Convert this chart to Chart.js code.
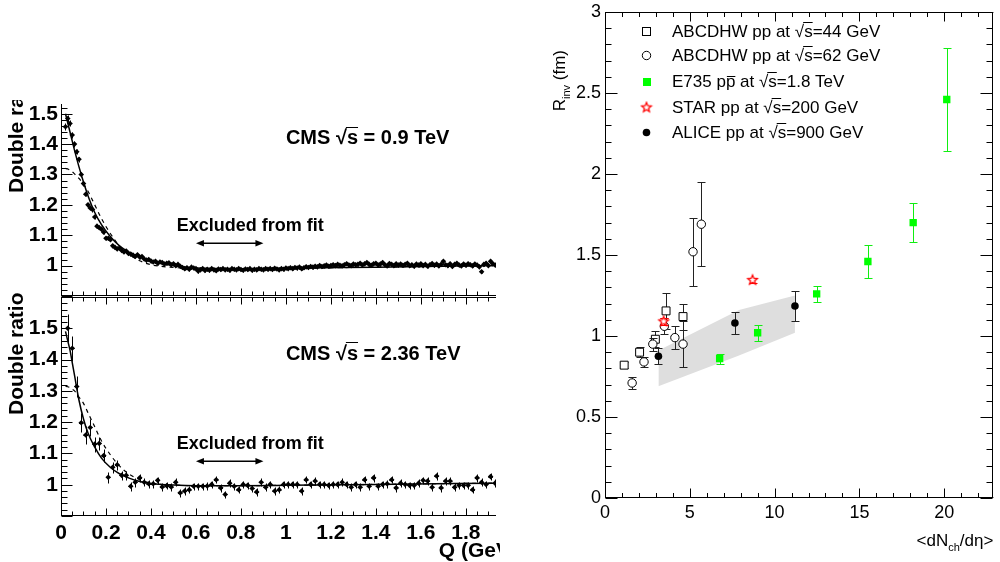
<!DOCTYPE html>
<html>
<head>
<meta charset="utf-8">
<script src="https://cdn.jsdelivr.net/npm/chart.js@4/dist/chart.umd.min.js"></script>
<style>
  body { margin: 0; background: #fff; width: 1000px; height: 562px; position: relative; overflow: hidden; }
  canvas { position: absolute; }
  #topLeft { left: 0; top: 100px; }
  #botLeft { left: 0; top: 290px; }
  #right { left: 500px; top: 0; }
</style>
</head>
<body>
<canvas id="topLeft" width="500" height="200"></canvas>
<canvas id="botLeft" width="500" height="272"></canvas>
<canvas id="right" width="500" height="562"></canvas>
<script>
// ---- left panels: CMS double ratio vs Q (GeV) ----
// 0.9 TeV histogram, bins of 0.01 GeV starting at 0.02
const topFirstBin = 0.02, topBinWidth = 0.01;
const ratioTop = [
  1.457, 1.484, 1.468, 1.430, 1.400, 1.375, 1.350, 1.300, 1.270, 1.235,
  1.200, 1.190, 1.185, 1.160, 1.130, 1.125, 1.120, 1.110, 1.090, 1.090,
  1.085, 1.065, 1.060, 1.055, 1.058, 1.050, 1.045, 1.048, 1.040, 1.038,
  1.035, 1.030, 1.036, 1.028, 1.030, 1.022, 1.018, 1.020, 1.015, 1.012,
  1.014, 1.008, 1.012, 1.010, 1.005, 1.008, 1.009, 1.003, 1.006, 1.000,
  1.004, 0.998, 0.994, 0.990, 0.993, 0.988, 0.995, 0.992, 0.990, 0.982,
  0.986, 0.990, 0.984, 0.988, 0.985, 0.990, 0.986, 0.983, 0.989, 0.987,
  0.990, 0.986, 0.988, 0.985, 0.990, 0.988, 0.986, 0.990, 0.987, 0.985,
  0.989, 0.987, 0.990, 0.985, 0.988, 0.986, 0.990, 0.988, 0.986, 0.990,
  0.988, 0.990, 0.987, 0.991, 0.989, 0.986, 0.990, 0.988, 0.992, 0.990,
  0.993, 0.990, 0.994, 0.992, 0.995, 0.990, 0.993, 0.996, 0.994, 0.997,
  0.995, 0.998, 0.996, 1.000, 0.997, 0.999, 1.002, 0.998, 1.000, 1.003,
  1.000, 1.004, 1.001, 0.999, 1.003, 1.006, 1.002, 1.000, 1.005, 1.003,
  1.004, 1.008, 1.002, 1.006, 1.010, 1.004, 1.001, 1.006, 1.008, 1.002,
  1.005, 1.010, 1.003, 0.999, 1.007, 1.004, 1.000, 1.006, 1.002, 1.005,
  1.001, 1.004, 1.008, 1.000, 1.003, 0.998, 1.005, 1.002, 1.006, 1.000,
  1.004, 0.998, 1.003, 1.007, 1.001, 1.005, 0.999, 1.004, 1.014, 1.003,
  1.000, 1.006, 0.997, 1.004, 1.008, 1.002, 0.999, 1.005, 1.001, 1.006,
  1.003, 0.999, 1.005, 1.002, 0.996, 0.980, 1.004, 1.008, 1.000, 1.014,
  1.006, 1.002
];
const errTop = [
  .012, .011, .010, .010, .009, .009, .008, .008, .008, .007,
  .007, .007, .007, .006, .006, .006, .006, .006, .006, .005,
  .005, .005, .005, .005, .005, .005, .005, .005, .005, .005,
  .005, .005, .005, .005, .005, .005, .005, .005, .005, .005,
  .005, .005, .005, .005, .005, .005, .005, .005, .005, .005,
  .005, .005, .005, .005, .005, .005, .005, .005, .005, .005,
  .005, .005, .005, .005, .005, .005, .005, .005, .005, .005,
  .005, .005, .005, .005, .005, .005, .005, .005, .005, .005,
  .005, .005, .005, .005, .005, .005, .005, .005, .005, .005,
  .005, .005, .005, .005, .005, .005, .005, .005, .005, .005,
  .005, .005, .005, .005, .005, .005, .005, .005, .005, .005,
  .005, .005, .005, .005, .005, .005, .005, .005, .005, .005,
  .005, .005, .005, .005, .005, .005, .005, .005, .005, .005,
  .005, .005, .005, .005, .005, .005, .005, .005, .005, .005,
  .005, .005, .005, .005, .005, .005, .005, .005, .005, .005,
  .005, .005, .005, .005, .005, .005, .005, .005, .005, .005,
  .005, .005, .005, .005, .005, .005, .005, .005, .005, .005,
  .005, .005, .005, .005, .005, .005, .005, .005, .005, .005,
  .005, .005, .005, .005, .005, .005, .005, .005, .005, .005,
  .005, .005
];

// 2.36 TeV histogram, bins of 0.02 GeV starting at 0.03
const botFirstBin = 0.03, botBinWidth = 0.02;
const ratioBot = [
  1.500, 1.436, 1.314, 1.198, 1.159, 1.183, 1.130, 1.132, 1.093, 1.024,
  1.056, 1.064, 1.030, 1.030, 0.995, 1.008, 1.022, 1.008, 1.003, 1.003,
  1.014, 0.993, 0.997, 0.993, 1.008, 0.974, 0.980, 0.984, 0.995, 0.995,
  0.995, 0.996, 1.001, 1.016, 0.990, 0.969, 1.005, 0.995, 0.984, 1.001,
  0.998, 0.988, 0.977, 1.008, 0.992, 1.001, 0.980, 0.984, 1.001, 1.001,
  1.001, 1.001, 0.980, 1.016, 1.001, 1.012, 1.001, 1.001, 0.998, 1.001,
  1.001, 1.008, 1.001, 0.992, 1.001, 0.992, 1.016, 0.995, 1.022, 0.995,
  1.001, 1.003, 1.016, 0.990, 1.005, 1.001, 0.998, 0.998, 1.005, 1.014,
  1.012, 0.992, 1.028, 0.990, 1.012, 1.012, 0.992, 0.998, 0.998, 0.998,
  0.984, 1.022, 1.008, 1.001, 1.026, 1.005
];
const errBot = [
  .045, .040, .035, .030, .028, .026, .024, .022, .020, .018,
  .017, .016, .015, .015, .014, .014, .013, .013, .013, .012,
  .012, .012, .012, .012, .012, .012, .012, .012, .012, .012,
  .012, .012, .012, .012, .012, .012, .012, .012, .012, .012,
  .012, .012, .012, .012, .012, .012, .012, .012, .012, .012,
  .012, .012, .012, .012, .012, .012, .012, .012, .012, .012,
  .012, .012, .012, .012, .012, .012, .012, .012, .012, .012,
  .012, .012, .012, .012, .012, .012, .012, .012, .012, .012,
  .012, .012, .012, .012, .012, .012, .012, .012, .012, .012,
  .012, .012, .012, .012, .012, .012
];

// fit curves (solid: exponential, dashed: gaussian)
const fitQ       = [0.02, 0.03, 0.04, 0.05, 0.06, 0.08, 0.10, 0.12, 0.15, 0.18, 0.22, 0.26, 0.30, 0.35, 0.40, 0.50, 0.60, 0.80, 1.00, 1.40, 1.93];
const expFitTop  = [1.500, 1.470, 1.440, 1.410, 1.380, 1.325, 1.275, 1.230, 1.175, 1.135, 1.095, 1.065, 1.045, 1.028, 1.016, 1.000, 0.992, 0.990, 0.991, 0.995, 1.000];
const gausFitTop = [1.320, 1.318, 1.314, 1.309, 1.302, 1.287, 1.268, 1.245, 1.200, 1.155, 1.105, 1.065, 1.038, 1.016, 1.003, 0.994, 0.991, 0.990, 0.991, 0.995, 1.000];
const expFitBot  = [1.490, 1.460, 1.430, 1.390, 1.350, 1.270, 1.210, 1.165, 1.120, 1.085, 1.055, 1.035, 1.022, 1.010, 1.004, 0.999, 0.997, 0.997, 0.998, 1.001, 1.005];
const gausFitBot = [1.315, 1.313, 1.310, 1.305, 1.300, 1.280, 1.260, 1.230, 1.185, 1.140, 1.095, 1.060, 1.035, 1.016, 1.005, 0.999, 0.997, 0.997, 0.998, 1.001, 1.005];

// ---- right panel: R_inv (fm) vs <dNch/deta> ----
const abcd44X = [1.13, 2.04, 2.97, 3.60, 4.60];
const abcd44Y = [0.82, 0.90, 0.98, 1.155, 1.12];
const abcd44Err = [0.02, 0.03, 0.05, 0.11, 0.08];
const abcd62X = [1.60, 2.30, 2.82, 3.50, 4.12, 4.60, 5.19, 5.68];
const abcd62Y = [0.71, 0.84, 0.95, 1.06, 0.99, 0.95, 1.52, 1.69];
const abcd62Err = [0.04, 0.03, 0.04, 0.05, 0.07, 0.14, 0.21, 0.26];
const e735X = [6.76, 9.00, 12.48, 15.50, 18.17, 20.15];
const e735Y = [0.86, 1.02, 1.26, 1.46, 1.70, 2.46];
const e735Err = [0.03, 0.05, 0.05, 0.10, 0.12, 0.32];
const starX = [3.46, 8.70];
const starY = [1.09, 1.345];
const starErr = [0.02, 0.015];
const aliceX = [3.15, 7.66, 11.20];
const aliceY = [0.875, 1.08, 1.185];
const aliceErr = [0.05, 0.07, 0.09];
const bandX = [3.15, 7.90, 11.20];
const bandHi = [0.91, 1.16, 1.25];
const bandLo = [0.69, 0.88, 1.02];

const FONT = "'Liberation Sans', Arial, Helvetica, sans-serif";
Chart.defaults.font.family = FONT;
Chart.defaults.color = '#000';

const pts = (xs, ys) => xs.map((x, i) => ({ x: x, y: ys[i] }));
const binCenters = (first, width, n) => Array.from({ length: n }, (_, i) => +(first + i * width).toFixed(3));
const fmt = v => String(Math.round(v * 100) / 100);
// keep the chart area exactly where the axes say, no room for label overflow
const noPad = s => { s.paddingTop = 0; s.paddingBottom = 0; s.paddingLeft = 0; s.paddingRight = 0; };

// text with overlines / subscripts: parts = [[text, mode]], mode '', 'over', 'bar', 'sub'
function richText(ctx, x, y, parts, size, weight, draw) {
  let cx = x;
  parts.forEach(([t, mode]) => {
    const fs = mode === 'sub' ? Math.round(size * 0.62) : size;
    ctx.font = `${weight} ${fs}px ${FONT}`;
    const w = ctx.measureText(t).width;
    if (draw !== false) {
      ctx.fillText(t, cx, mode === 'sub' ? y + size * 0.3 : y);
      if (mode === 'over') ctx.fillRect(cx - 1, Math.round(y - size * 0.86), w + 1, 1);
      if (mode === 'bar') ctx.fillRect(cx + 1, Math.round(y - size * 0.66), w - 1, 1);
    }
    cx += w;
  });
  return cx - x;
}

function arrow(ctx, x1, x2, y) {
  ctx.fillRect(x1 + 3, y - 0.5, x2 - x1 - 6, 1.5);
  [[x1, 1], [x2, -1]].forEach(([x, d]) => {
    ctx.beginPath();
    ctx.moveTo(x, y + 0.25);
    ctx.lineTo(x + d * 8, y - 3);
    ctx.lineTo(x + d * 8, y + 3.5);
    ctx.closePath();
    ctx.fill();
  });
}

const errorBars = {
  id: 'errorBars',
  beforeDatasetDraw(chart, args) {
    const ds = chart.data.datasets[args.index];
    if (!ds.errors) return;
    const ctx = chart.ctx, xs = chart.scales.x, ys = chart.scales.y, a = chart.chartArea;
    ctx.save();
    ctx.beginPath();
    ctx.rect(a.left, a.top, a.right - a.left, a.bottom - a.top);
    ctx.clip();
    ctx.strokeStyle = ds.errorColor;
    ctx.lineWidth = ds.errorWidth || 1;
    ctx.beginPath();
    ds.data.forEach((p, j) => {
      const x = Math.round(xs.getPixelForValue(p.x)) + 0.5;
      const yt = Math.round(ys.getPixelForValue(p.y + ds.errors[j])) + 0.5;
      const yb = Math.round(ys.getPixelForValue(p.y - ds.errors[j])) + 0.5;
      ctx.moveTo(x, yt); ctx.lineTo(x, yb);
      if (ds.capWidth) {
        ctx.moveTo(x - ds.capWidth, yt); ctx.lineTo(x + ds.capWidth, yt);
        ctx.moveTo(x - ds.capWidth, yb); ctx.lineTo(x + ds.capWidth, yb);
      }
      if (ds.halfBin) {
        const y = Math.round(ys.getPixelForValue(p.y)) + 0.5;
        ctx.moveTo(xs.getPixelForValue(p.x - ds.halfBin), y);
        ctx.lineTo(xs.getPixelForValue(p.x + ds.halfBin), y);
      }
    });
    ctx.stroke();
    ctx.restore();
  }
};

// ROOT style frame: axis lines and inward ticks
const rootFrame = {
  id: 'rootFrame',
  afterDatasetsDraw(chart, args, o) {
    const ctx = chart.ctx, a = chart.chartArea, xs = chart.scales.x, ys = chart.scales.y;
    const L = Math.round(a.left) + 0.5, R = Math.round(a.right) - 0.5;
    const T = Math.round(a.top) + 0.5, B = Math.round(a.bottom) - 0.5;
    const list = (s, minor, every) => {
      const out = [];
      for (let k = Math.ceil(s.min / minor - 1e-6); k <= Math.floor(s.max / minor + 1e-6); k++) out.push({ v: k * minor, major: k % every === 0 });
      return out;
    };
    ctx.save();
    ctx.strokeStyle = '#000';
    ctx.lineWidth = 1;
    ctx.beginPath();
    if (o.lines.includes('left')) { ctx.moveTo(L, T - 0.5); ctx.lineTo(L, B + 0.5); }
    if (o.lines.includes('right')) { ctx.moveTo(R, T - 0.5); ctx.lineTo(R, B + 0.5); }
    if (o.lines.includes('top')) { ctx.moveTo(L, T); ctx.lineTo(a.right, T); }
    if (o.lines.includes('bottom')) { ctx.moveTo(L, B); ctx.lineTo(a.right, B); }
    list(xs, o.xMinor, o.xEvery).forEach(t => {
      const x = Math.round(xs.getPixelForValue(t.v)) + 0.5;
      const len = t.major ? o.xLen[0] : o.xLen[1];
      if (o.xSides.includes('bottom')) { ctx.moveTo(x, B); ctx.lineTo(x, B - len); }
      if (o.xSides.includes('top')) { ctx.moveTo(x, T); ctx.lineTo(x, T + len); }
    });
    list(ys, o.yMinor, o.yEvery).forEach(t => {
      const y = Math.round(ys.getPixelForValue(t.v)) + 0.5;
      const len = t.major ? o.yLen[0] : o.yLen[1];
      if (o.ySides.includes('left')) { ctx.moveTo(L, y); ctx.lineTo(L + len, y); }
      if (o.ySides.includes('right')) { ctx.moveTo(R, y); ctx.lineTo(R - len, y); }
    });
    ctx.stroke();
    ctx.restore();
  }
};

function leftConfig(p) {
  const notes = {
    id: 'notes',
    afterDraw(chart) {
      const ctx = chart.ctx, xs = chart.scales.x, ys = chart.scales.y;
      ctx.save();
      ctx.fillStyle = '#000';
      ctx.textBaseline = 'alphabetic';
      richText(ctx, xs.getPixelForValue(1.0), ys.getPixelForValue(1.40),
        [['CMS ', ''], ['\u221A', ''], ['s', 'over'], [' = ' + p.energy + ' TeV', '']], 20, 'bold');
      richText(ctx, xs.getPixelForValue(0.515), ys.getPixelForValue(1.113), [['Excluded from fit', '']], 18, 'bold');
      arrow(ctx, xs.getPixelForValue(0.6), xs.getPixelForValue(0.9), Math.round(ys.getPixelForValue(1.076)));
      ctx.translate(23, p.titleBottom);
      ctx.rotate(-Math.PI / 2);
      ctx.font = `bold 21px ${FONT}`;
      ctx.fillText('Double ratio', 0, 0);
      ctx.restore();
      if (p.xTitle) {
        ctx.save();
        ctx.font = `bold 21px ${FONT}`;
        ctx.fillText('Q (GeV)', xs.getPixelForValue(1.68), 267);
        ctx.restore();
      }
    }
  };
  return {
    type: 'scatter',
    data: {
      datasets: [
        { data: pts(fitQ, p.exp), showLine: true, borderColor: '#000', borderWidth: 1.5, pointRadius: 0, cubicInterpolationMode: 'monotone' },
        { data: pts(fitQ, p.gaus), showLine: true, borderColor: '#000', borderWidth: 1.2, borderDash: [4, 4], pointRadius: 0, cubicInterpolationMode: 'monotone' },
        { data: pts(p.q, p.ratio), errors: p.err, halfBin: p.halfBin, errorColor: '#000',
          pointStyle: 'rectRot', pointRadius: 2.8, backgroundColor: '#000', borderColor: '#000', borderWidth: 0 }
      ]
    },
    options: {
      responsive: false, animation: false, events: [],
      layout: { padding: { top: p.padTop, right: 0, left: 0, bottom: 0 } },
      plugins: {
        legend: { display: false }, tooltip: { enabled: false },
        rootFrame: { lines: p.lines, xSides: p.xSides, ySides: ['left'], xMinor: 0.05, xEvery: 4, xLen: [7, 4], yMinor: 0.02, yEvery: 5, yLen: [11, 6] }
      },
      scales: {
        x: {
          type: 'linear', min: 0, max: 1.934,
          grid: { display: false, drawTicks: false }, border: { display: false },
          ticks: { display: p.xLabels, stepSize: 0.2, includeBounds: false, autoSkip: false, maxRotation: 0, padding: 5,
                   font: { size: 21, weight: 'bold' }, callback: fmt },
          afterFit: s => { s.height = p.xHeight; noPad(s); }
        },
        y: {
          min: 0.9, max: p.yMax,
          grid: { display: false, drawTicks: false }, border: { display: false },
          ticks: { stepSize: 0.1, includeBounds: false, autoSkip: false, padding: 3,
                   font: { size: 21, weight: 'bold' }, callback: v => (v < 0.95 || v > 1.55) ? '' : fmt(v) },
          afterFit: s => { s.width = 61; noPad(s); }
        }
      }
    },
    plugins: [errorBars, rootFrame, notes]
  };
}

new Chart(document.getElementById('topLeft'), leftConfig({
  q: binCenters(topFirstBin, topBinWidth, ratioTop.length), ratio: ratioTop, err: errTop, halfBin: topBinWidth / 2,
  exp: expFitTop, gaus: gausFitTop, energy: '0.9', yMax: 1.532, padTop: 0, xHeight: 3, xLabels: false,
  lines: ['left', 'bottom'], xSides: ['bottom'], titleBottom: 93, xTitle: false
}));

new Chart(document.getElementById('botLeft'), leftConfig({
  q: binCenters(botFirstBin, botBinWidth, ratioBot.length), ratio: ratioBot, err: errBot, halfBin: botBinWidth / 2,
  exp: expFitBot, gaus: gausFitBot, energy: '2.36', yMax: 1.6, padTop: 7, xHeight: 46, xLabels: true,
  lines: ['left', 'bottom', 'top'], xSides: ['bottom', 'top'], titleBottom: 125, xTitle: true
}));

// open 5-point star marker
function starMarker(color, r) {
  const c = document.createElement('canvas');
  const s = Math.ceil(r * 2 + 4);
  c.width = c.height = s;
  const g = c.getContext('2d');
  g.strokeStyle = color;
  g.lineWidth = 1.3;
  g.beginPath();
  for (let k = 0; k < 10; k++) {
    const ang = -Math.PI / 2 + k * Math.PI / 5, rr = k % 2 ? r * 0.45 : r;
    g.lineTo(s / 2 + rr * Math.cos(ang), s / 2 + rr * Math.sin(ang));
  }
  g.closePath();
  g.fillStyle = '#fff';
  g.fill();
  g.stroke();
  return c;
}
const star = starMarker('#ff0000', 5);

const legendRows = [
  { kind: 'openSquare', parts: [['ABCDHW pp at ', ''], ['\u221A', ''], ['s', 'over'], ['=44 GeV', '']] },
  { kind: 'openCircle', parts: [['ABCDHW pp at ', ''], ['\u221A', ''], ['s', 'over'], ['=62 GeV', '']] },
  { kind: 'greenSquare', parts: [['E735 p', ''], ['p', 'bar'], [' at ', ''], ['\u221A', ''], ['s', 'over'], ['=1.8 TeV', '']] },
  { kind: 'star', parts: [['STAR pp at ', ''], ['\u221A', ''], ['s', 'over'], ['=200 GeV', '']] },
  { kind: 'blackCircle', parts: [['ALICE pp at ', ''], ['\u221A', ''], ['s', 'over'], ['=900 GeV', '']] }
];

const rightNotes = {
  id: 'rightNotes',
  afterDraw(chart) {
    const ctx = chart.ctx;
    ctx.save();
    ctx.fillStyle = '#000';
    ctx.textBaseline = 'alphabetic';
    const rowY = [31, 55, 81, 107, 132];
    legendRows.forEach((row, i) => {
      const y = rowY[i], mx = 146;
      ctx.save();
      ctx.lineWidth = 1;
      if (row.kind === 'openSquare') { ctx.strokeStyle = '#000'; ctx.strokeRect(mx - 3.5, y - 3.5, 8, 8); }
      if (row.kind === 'openCircle') { ctx.strokeStyle = '#000'; ctx.beginPath(); ctx.arc(mx + 0.5, y + 0.5, 4.2, 0, 2 * Math.PI); ctx.stroke(); }
      if (row.kind === 'greenSquare') { ctx.fillStyle = '#00ff00'; ctx.fillRect(mx - 3, y - 3, 8, 8); }
      if (row.kind === 'star') { ctx.drawImage(star, mx + 0.5 - star.width / 2, y + 0.5 - star.height / 2); }
      if (row.kind === 'blackCircle') { ctx.fillStyle = '#000'; ctx.beginPath(); ctx.arc(mx + 0.5, y + 0.5, 3.8, 0, 2 * Math.PI); ctx.fill(); }
      ctx.restore();
      richText(ctx, 172, y + 6, row.parts, 17, 'normal');
    });
    // axis titles
    const xt = [['<dN', ''], ['ch', 'sub'], ['/d\u03B7>', '']];
    const w = richText(ctx, 0, 0, xt, 17, 'normal', false);
    richText(ctx, chart.chartArea.right - w, 546, xt, 17, 'normal');
    const yt = [['R', ''], ['inv', 'sub'], [' (fm)', '']];
    const wy = richText(ctx, 0, 0, yt, 17, 'normal', false);
    ctx.translate(65, 50 + wy);
    ctx.rotate(-Math.PI / 2);
    richText(ctx, 0, 0, yt, 17, 'normal');
    ctx.restore();
  }
};

new Chart(document.getElementById('right'), {
  type: 'scatter',
  data: {
    datasets: [
      { data: pts(starX, starY), errors: starErr, errorColor: '#ff0000', capWidth: 4, pointStyle: star },
      { data: pts(aliceX, aliceY), errors: aliceErr, errorColor: '#222', capWidth: 4,
        pointStyle: 'circle', pointRadius: 3.8, backgroundColor: '#000', borderColor: '#000', borderWidth: 0 },
      { data: pts(e735X, e735Y), errors: e735Err, errorColor: '#11ee11', capWidth: 4,
        pointStyle: 'rect', pointRadius: 5.2, backgroundColor: '#00ff00', borderColor: '#00ff00', borderWidth: 0 },
      { data: pts(abcd62X, abcd62Y), errors: abcd62Err, errorColor: '#222', capWidth: 4,
        pointStyle: 'circle', pointRadius: 4.2, backgroundColor: '#fff', borderColor: '#000', borderWidth: 1 },
      { data: pts(abcd44X, abcd44Y), errors: abcd44Err, errorColor: '#222', capWidth: 4,
        pointStyle: 'rect', pointRadius: 5.6, backgroundColor: '#fff', borderColor: '#000', borderWidth: 1 },
      { data: pts(bandX, bandHi), showLine: true, fill: '+1', backgroundColor: '#dedede', borderColor: 'rgba(0,0,0,0)', borderWidth: 0, pointRadius: 0, order: 10 },
      { data: pts(bandX, bandLo), showLine: true, fill: false, borderColor: 'rgba(0,0,0,0)', borderWidth: 0, pointRadius: 0, order: 10 }
    ]
  },
  options: {
    responsive: false, animation: false, events: [],
    layout: { padding: { top: 12, right: 2, left: 0, bottom: 0 } },
    plugins: {
      legend: { display: false }, tooltip: { enabled: false },
      filler: { drawTime: 'beforeDatasetsDraw' },
      rootFrame: { lines: ['left', 'right', 'top', 'bottom'], xSides: ['bottom', 'top'], ySides: ['left', 'right'],
                   xMinor: 1, xEvery: 5, xLen: [9, 4.5], yMinor: 0.1, yEvery: 5, yLen: [12, 6] }
    },
    scales: {
      x: {
        type: 'linear', min: 0, max: 22.9,
        grid: { display: false, drawTicks: false }, border: { display: false },
        ticks: { stepSize: 5, includeBounds: false, autoSkip: false, maxRotation: 0, padding: 4, font: { size: 18 }, callback: fmt },
        afterFit: s => { s.height = 64; noPad(s); }
      },
      y: {
        min: 0, max: 3,
        grid: { display: false, drawTicks: false }, border: { display: false },
        ticks: { stepSize: 0.5, includeBounds: false, autoSkip: false, padding: 4, font: { size: 18 }, callback: fmt },
        afterFit: s => { s.width = 105; noPad(s); }
      }
    }
  },
  plugins: [errorBars, rootFrame, rightNotes]
});
</script>
</body>
</html>
